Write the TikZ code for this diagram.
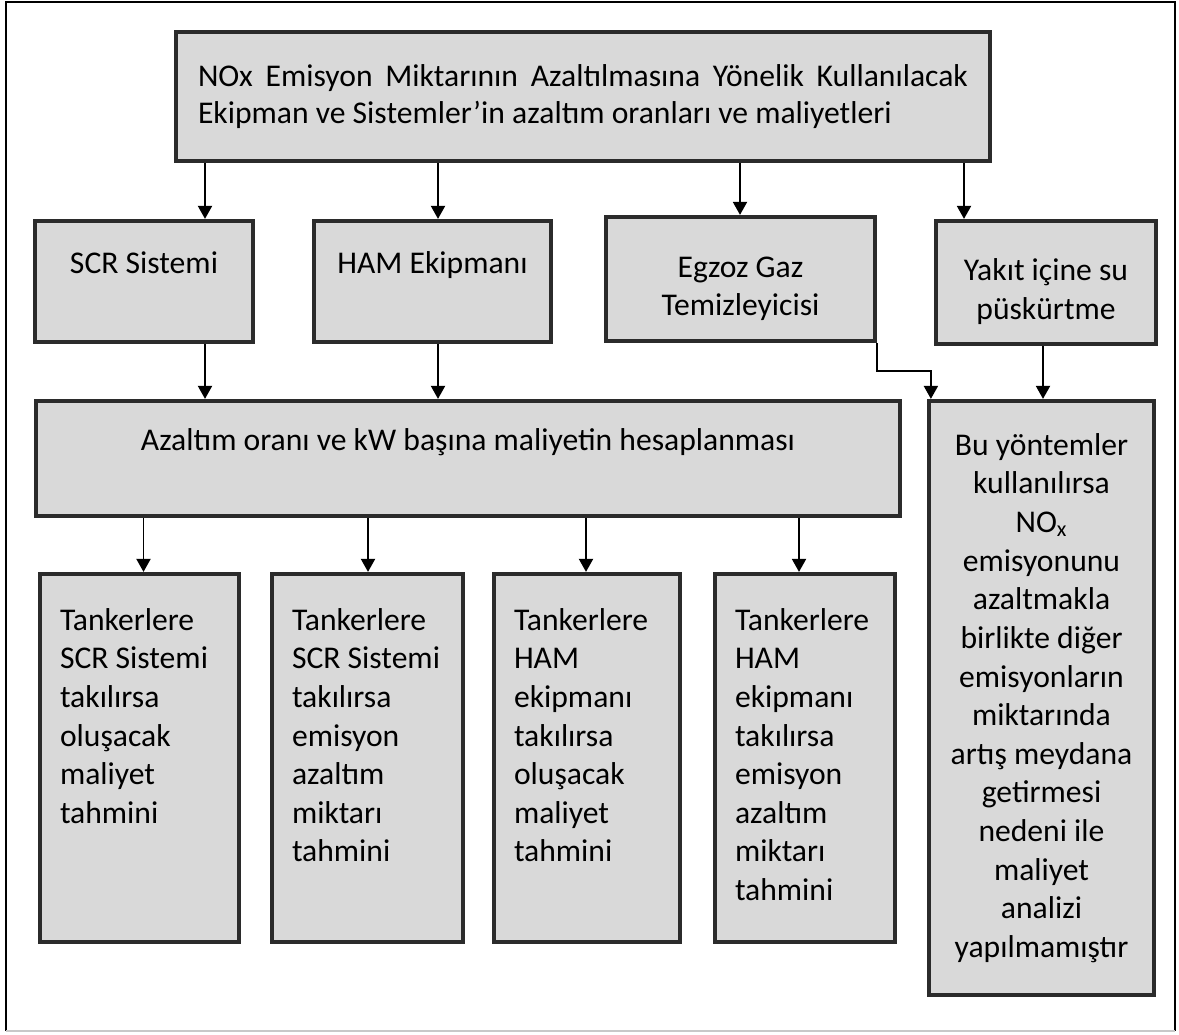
\documentclass[tikz,border=0pt]{standalone}
\usepackage{fontspec}
\setmainfont{Carlito}
\usetikzlibrary{positioning,arrows.meta,calc}
\definecolor{boxfill}{HTML}{D9D9D9}
\definecolor{boxline}{HTML}{2B2B2B}
\definecolor{framegray}{HTML}{C8C8C8}
\newlength{\pxu}
\setlength{\pxu}{0.02cm}
\newcommand{\tanktext}[2]{\parbox[c][368\pxu][t]{#1}{\raggedright\vspace*{29\pxu}\strut #2}}

\begin{document}
\begin{tikzpicture}[x=0.02cm,y=-0.02cm,>=Stealth,font=\fontsize{18}{22}\selectfont,
  box/.style={draw=boxline,line width=2.4pt,fill=boxfill,inner sep=0pt,align=center},
  arr/.style={-{Triangle[length=0.26cm,width=0.28cm]},line width=1.1pt}]
  \useasboundingbox (0,0) rectangle (1179,1034);
  % outer frame
  \draw[line width=0.9pt] (6,1031) -- (6,2) -- (1175,2) -- (1175,1031);
  \draw[line width=0.9pt,framegray] (6,1031) -- (1175,1031);

  % boxes
  \node[box,minimum width=814\pxu,minimum height=129\pxu,text width=770\pxu,align=justify,
    font=\fontsize{18}{21.5}\selectfont] (goal) at (583,96.5)
    {NOx Emisyon Miktarının Azaltılmasına Yönelik Kullanılacak\linebreak Ekipman ve Sistemler’in azaltım oranları ve maliyetleri};
  \node[box,minimum width=218\pxu,minimum height=121\pxu] (scr) at (144,281.5) {SCR Sistemi\\\mbox{}};
  \node[box,minimum width=237\pxu,minimum height=121\pxu] (ham) at (432.5,281.5) {HAM Ekipmanı\\\mbox{}};
  \node[box,minimum width=269\pxu,minimum height=124\pxu,text height=45pt] (egz) at (740.5,279) {Egzoz Gaz\\Temizleyicisi};
  \node[box,minimum width=220\pxu,minimum height=123\pxu,text height=45pt] (yak) at (1046,282.5) {Yakıt içine su\\püskürtme};
  \node[box,minimum width=864\pxu,minimum height=115\pxu] (calc) at (468,458.5)
    {Azaltım oranı ve kW başına maliyetin hesaplanması\\\mbox{}};
  \node[box,minimum width=199\pxu] (t1) at (139.5,758)
    {\tanktext{159\pxu}{Tankerlere\\SCR Sistemi\\takılırsa\\oluşacak\\maliyet\\tahmini}};
  \node[box,minimum width=191\pxu] (t2) at (367.5,758)
    {\tanktext{151\pxu}{Tankerlere\\SCR Sistemi\\takılırsa\\emisyon\\azaltım\\miktarı\\tahmini}};
  \node[box,minimum width=186\pxu] (t3) at (587,758)
    {\tanktext{146\pxu}{Tankerlere\\HAM\\ekipmanı\\takılırsa\\oluşacak\\maliyet\\tahmini}};
  \node[box,minimum width=180\pxu] (t4) at (805,758)
    {\tanktext{140\pxu}{Tankerlere\\HAM\\ekipmanı\\takılırsa\\emisyon\\azaltım\\miktarı\\tahmini}};
  \node[box,minimum width=225\pxu,minimum height=594\pxu] (res) at (1041.5,698)
    {Bu yöntemler\\kullanılırsa\\NO\textsubscript{x}\\emisyonunu\\azaltmakla\\birlikte diğer\\emisyonların\\miktarında\\artış meydana\\getirmesi\\nedeni ile\\maliyet\\analizi\\yapılmamıştır};

  % arrow columns
  \coordinate (c1) at (205,0);
  \coordinate (c2) at (438,0);
  \coordinate (c3) at (740,0);
  \coordinate (c4) at (964,0);
  \coordinate (c5) at (1043,0);
  \coordinate (d1) at (143.5,0);
  \coordinate (d2) at (368,0);
  \coordinate (d3) at (586,0);
  \coordinate (d4) at (799,0);

  % connectors
  \draw[arr] (goal.south -| c1) -- (scr.north -| c1);
  \draw[arr] (goal.south -| c2) -- (ham.north -| c2);
  \draw[arr] (goal.south -| c3) -- (egz.north -| c3);
  \draw[arr] (goal.south -| c4) -- (yak.north -| c4);
  \draw[arr] (scr.south -| c1) -- (calc.north -| c1);
  \draw[arr] (ham.south -| c2) -- (calc.north -| c2);
  \draw[arr] (yak.south -| c5) -- (res.north -| c5);
  \draw[arr] (egz.south east) -- ++(0,28) -| ($(res.north west)+(4,0)$);
  \draw[arr] (calc.south -| d1) -- (t1.north -| d1);
  \draw[arr] (calc.south -| d2) -- (t2.north -| d2);
  \draw[arr] (calc.south -| d3) -- (t3.north -| d3);
  \draw[arr] (calc.south -| d4) -- (t4.north -| d4);
\end{tikzpicture}
\end{document}
